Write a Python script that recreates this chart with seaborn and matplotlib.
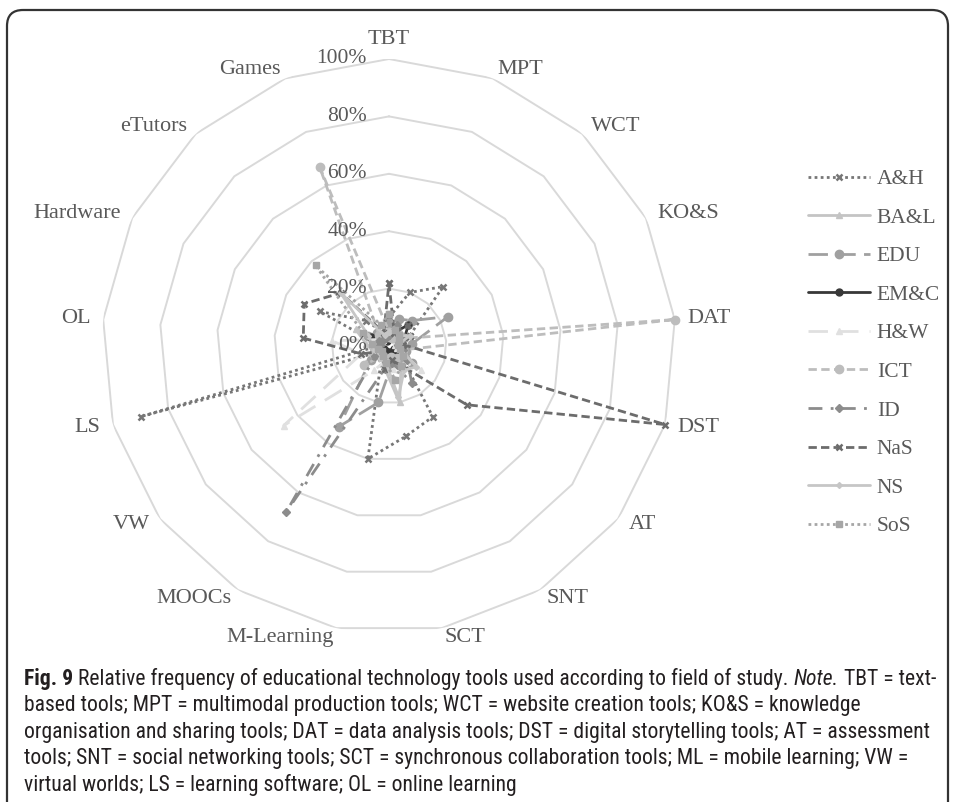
import numpy as np
import pandas as pd
import matplotlib
matplotlib.use("Agg")
import matplotlib.pyplot as plt
import seaborn as sns
from matplotlib import font_manager, transforms
from matplotlib.patches import FancyBboxPatch
from matplotlib.font_manager import FontProperties

# ---------------- data ----------------
categories = ["TBT", "MPT", "WCT", "KO&S", "DAT", "DST", "AT", "SNT", "SCT",
              "M-Learning", "MOOCs", "VW", "LS", "OL", "Hardware", "eTutors", "Games"]
series_names = ["A&H", "BA&L", "EDU", "EM&C", "H&W", "ICT", "ID", "NaS", "NS", "SoS"]

ah = [10, 20, 28, 8, 3, 3, 5, 29, 32, 40, 5, 3, 90, 3, 27, 12, 5]
bal = [8, 5, 6, 5, 2, 3, 6, 8, 20, 8, 5, 5, 6, 8, 13, 4, 3]
edu = [8, 10, 12, 23, 8, 6, 10, 8, 6, 20, 33, 8, 5, 5, 8, 6, 5]
emc = [3, 5, 10, 6, 4, 3, 2, 3, 2, 3, 2, 2, 3, 4, 7, 3, 2]
hw = [3, 3, 3, 3, 2, 3, 14, 5, 8, 5, 10, 46, 10, 20, 5, 3, 3]
ict = [5, 3, 5, 6, 100, 5, 6, 5, 4, 5, 4, 11, 5, 4, 3, 5, 67]
id_ = [4, 8, 5, 6, 3, 5, 8, 15, 6, 8, 68, 6, 4, 3, 4, 3, 3]
nas = [22, 5, 10, 8, 5, 100, 34, 8, 5, 8, 4, 3, 10, 30, 33, 25, 5]
ns = [5, 6, 5, 8, 3, 4, 12, 10, 18, 6, 5, 4, 5, 6, 8, 25, 4]
sos = [11, 6, 5, 4, 3, 4, 6, 8, 12, 6, 4, 3, 4, 6, 10, 38, 8]
series_values = [ah, bal, edu, emc, hw, ict, id_, nas, ns, sos]

ring_ticks = [0, 20, 40, 60, 80, 100]
tick_labels = ["0%", "20%", "40%", "60%", "80%", "100%"]

caption_lines = [
    [("Fig. 9", "bold"), (" Relative frequency of educational technology tools used according to field of study. ", "normal"),
     ("Note.", "italic"), (" TBT = text-", "normal")],
    [("based tools; MPT = multimodal production tools; WCT = website creation tools; KO&S = knowledge", "normal")],
    [("organisation and sharing tools; DAT = data analysis tools; DST = digital storytelling tools; AT = assessment", "normal")],
    [("tools; SNT = social networking tools; SCT = synchronous collaboration tools; ML = mobile learning; VW =", "normal")],
    [("virtual worlds; LS = learning software; OL = online learning", "normal")],
]

# ---------------- styles ----------------
styles = {
    "A&H": dict(color="#777777", linestyle=(0, (1, 1.2)), marker="x", markersize=5, markeredgewidth=1.8),
    "BA&L": dict(color="#c4c4c4", linestyle="-", marker="^", markersize=5),
    "EDU": dict(color="#a0a0a0", linestyle=(0, (7, 3)), marker="o", markersize=6),
    "EM&C": dict(color="#383838", linestyle="-", marker="o", markersize=5),
    "H&W": dict(color="#e0e0e0", linestyle=(0, (7, 4)), marker="^", markersize=5),
    "ICT": dict(color="#bdbdbd", linestyle=(0, (3, 1.6)), marker="o", markersize=6),
    "ID": dict(color="#8c8c8c", linestyle=(0, (5, 3, 1, 3)), marker="D", markersize=4),
    "NaS": dict(color="#6c6c6c", linestyle=(0, (3, 1.5)), marker="x", markersize=5, markeredgewidth=1.8),
    "NS": dict(color="#c6c6c6", linestyle="-", marker="D", markersize=3),
    "SoS": dict(color="#a6a6a6", linestyle=(0, (1, 1.2)), marker="s", markersize=5),
}

sns.set_style("white")
plt.rcParams["font.family"] = ["Liberation Serif", "DejaVu Serif"]

W, H = 956, 802
fig = plt.figure(figsize=(W / 100, H / 100), dpi=100)
cx, cy, R = 389, 346, 287
ax = fig.add_axes([(cx - R) / W, 1 - (cy + R) / H, 2 * R / W, 2 * R / H], projection="polar")
ax.set_theta_zero_location("N")
ax.set_theta_direction(-1)
ax.set_ylim(0, 100)
ax.set_xticks([])
ax.set_yticks([])
ax.grid(False)
ax.spines["polar"].set_visible(False)
ax.patch.set_alpha(0)

n = len(categories)
theta = np.arange(n) * 2 * np.pi / n
theta_closed = np.append(theta, 2 * np.pi)

text_color = "#595959"
grid_color = "#d9d9d9"

# polygon grid
for t in ring_ticks[1:]:
    ax.plot(theta_closed, np.full(n + 1, t), color=grid_color, lw=1.4, zorder=1)

# series
records = []
for name, vals in zip(series_names, series_values):
    closed = list(vals) + [vals[0]]
    for th, v in zip(theta_closed, closed):
        records.append({"series": name, "theta": th, "value": v})
df = pd.DataFrame(records)

handles = []
for name in series_names:
    sub = df[df["series"] == name]
    st = dict(styles[name])
    st.setdefault("markeredgewidth", 1.0)
    sns.lineplot(data=sub, x="theta", y="value", ax=ax, sort=False, estimator=None,
                 lw=2, label=name, legend=False, zorder=3, markeredgecolor=st["color"],
                 markerfacecolor=st["color"], **st)
    ln = ax.get_lines()[-1]
    ln.set_clip_on(False)
    handles.append(ln)
ax.set_xlabel("")
ax.set_ylabel("")
ax.set_ylim(0, 100)

# tick labels
for t, lab in zip(ring_ticks, tick_labels):
    ax.annotate(lab, xy=(0, t), xytext=(-16, 0), textcoords="offset points",
                ha="right", va="center", fontsize=15.5, color=text_color, zorder=5)

# category labels
for k, cat in enumerate(categories):
    s, c = np.sin(theta[k]), np.cos(theta[k])
    ha = "center" if abs(s) < 0.05 else ("left" if s > 0 else "right")
    va = "bottom" if c > 0.99 else "center"
    ax.annotate(cat, xy=(theta[k], 100), xytext=(13 * s / 1.389, 10 * c / 1.389),
                textcoords="offset points", ha=ha, va=va, fontsize=16, color=text_color,
                annotation_clip=False)

# legend
leg = ax.legend(handles, series_names, loc="upper left",
                bbox_to_anchor=(808 / W, 1 - 169 / H), bbox_transform=fig.transFigure,
                frameon=False, fontsize=15.5, handlelength=2.9, handletextpad=0.3,
                labelspacing=0.86, borderpad=0, borderaxespad=0, numpoints=1)
for txt in leg.get_texts():
    txt.set_color(text_color)

# frame
frame = FancyBboxPatch((7, -40), 941, 792 + 40, boxstyle="round,pad=0,rounding_size=16",
                       transform=transforms.IdentityTransform(), fill=False,
                       edgecolor="#333333", lw=1.6)
fig.add_artist(frame)

# caption font: look for a condensed sans
cap_family, cap_stretch = None, "normal"
names = {f.name for f in font_manager.fontManager.ttflist}
for cand in ["Liberation Sans Narrow", "Roboto Condensed", "Open Sans Condensed", "Noto Sans Condensed"]:
    if cand in names:
        cap_family = cand
        break
if cap_family is None:
    for f in font_manager.fontManager.ttflist:
        if str(f.stretch) in ("condensed", "semi-condensed") and f.name in ("DejaVu Sans", "Noto Sans", "Roboto", "Open Sans"):
            cap_family, cap_stretch = f.name, "condensed"
            break
if cap_family is None:
    cap_family = "Roboto"


def fp(kind, size):
    weight = "bold" if kind == "bold" else "normal"
    style = "italic" if kind == "italic" else "normal"
    return FontProperties(family=cap_family, stretch=cap_stretch, weight=weight, style=style, size=size)


renderer = fig.canvas.get_renderer()


def line_width(parts, size):
    total = 0
    for txt, kind in parts:
        tt = fig.text(0, 0, txt, fontproperties=fp(kind, size))
        total += tt.get_window_extent(renderer).width
        tt.remove()
    return total


base = 14
w1 = line_width(caption_lines[0], base)
cap_size = float(np.clip(base * 918 / w1, 9, 16))

cap_color = "#231f20"
x0 = 24
y_centers = [677, 703.5, 730, 756.5, 783]
for parts, yc in zip(caption_lines, y_centers):
    x = x0
    ybase = yc + 0.36 * cap_size * 1.389
    for txt, kind in parts:
        tt = fig.text(x / W, 1 - ybase / H, txt, fontproperties=fp(kind, cap_size),
                      color=cap_color, ha="left", va="baseline")
        x += tt.get_window_extent(renderer).width

fig.savefig("out.png", dpi=100)
